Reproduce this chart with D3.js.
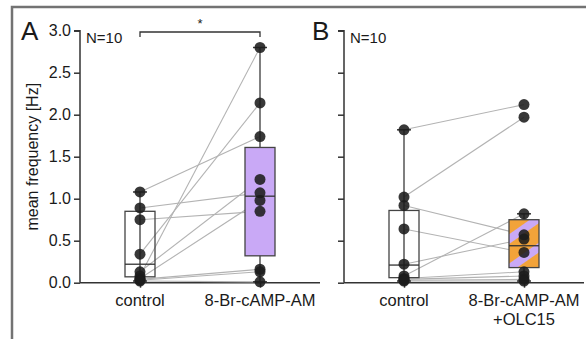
<!DOCTYPE html>
<html>
<head>
<meta charset="utf-8">
<script src="https://cdn.jsdelivr.net/npm/d3@7"></script>
<style>
body { margin: 0; background: #fff; }
text { font-family: "Liberation Sans", Arial, sans-serif; fill: #1a1a1a; }
</style>
</head>
<body>
<svg id="chart" width="586" height="339"></svg>
<script>
const yTicks = [0, 0.5, 1.0, 1.5, 2.0, 2.5, 3.0];
const catsA = ['control', '8-Br-cAMP-AM'];
const catsB = ['control', '8-Br-cAMP-AM|+OLC15'];

// paired recordings: same index = same cell
const ctrlA = [1.08, 0.89, 0.75, 0.34, 0.13, 0.08, 0.05, 0.04, 0.03, 0.02];
const campA = [1.74, 1.07, 0.85, 2.14, 1.23, 2.80, 0.98, 0.16, 0.13, 0.01];
const ctrlB = [1.82, 1.02, 0.92, 0.64, 0.22, 0.08, 0.05, 0.04, 0.03, 0.02];
const olcB = [2.12, 1.97, 0.57, 0.36, 0.52, 0.82, 0.13, 0.08, 0.04, 0.02];

// box stats: [low whisker, q1, median, q3, high whisker]
const boxA = [[0.02, 0.07, 0.22, 0.85, 1.08], [0.01, 0.32, 1.03, 1.61, 2.80]];
const boxB = [[0.02, 0.06, 0.21, 0.86, 1.82], [0.02, 0.18, 0.44, 0.75, 0.82]];

const svg = d3.select('#chart');
const defs = svg.append('defs');

const pat = defs.append('pattern')
	.attr('id', 'stripes')
	.attr('patternUnits', 'userSpaceOnUse')
	.attr('width', 24)
	.attr('height', 24)
	.attr('patternTransform', 'translate(509,205) rotate(-35)');
pat.append('rect').attr('width', 24).attr('height', 24).attr('fill', '#f2a33a');
pat.append('rect').attr('width', 24).attr('height', 8).attr('fill', '#c9a9f6');

// frame
svg.append('path')
	.attr('d', 'M12,340 L12,7 L590,7')
	.attr('fill', 'none')
	.attr('stroke', '#737373')
	.attr('stroke-width', 2.5);

const y = d3.scaleLinear().domain([0, 3]).range([282.7, 30.7]);

function drawPanel(x0, x1, cats, ctrl, treat, boxes, fill, showLabels) {
	const x = d3.scalePoint().domain(cats).range([x0, x1]).padding(0.5);
	const g = svg.append('g');

	// axes
	const yAxis = d3.axisLeft(y).tickValues(yTicks).tickSize(6).tickPadding(3)
		.tickFormat(showLabels ? d3.format('.1f') : '');
	const ya = g.append('g').attr('transform', `translate(${x0},0)`).call(yAxis);
	ya.select('.domain').attr('d', `M-6,${y(3)}H0V${y(0)}`);
	const xAxis = d3.axisBottom(x).tickSize(5).tickPadding(6).tickFormat('');
	const xa = g.append('g').attr('transform', `translate(0,${y(0)})`).call(xAxis);
	xa.select('.domain').attr('d', `M${x0},0H${x1}`);
	g.selectAll('.domain, .tick line').attr('stroke', '#333').attr('stroke-width', 1.5);
	ya.selectAll('.tick text').attr('font-size', 16).attr('fill', '#1a1a1a')
		.style('font-family', '"Liberation Sans", Arial, sans-serif');

	// category labels
	cats.forEach((c) => {
		const t = g.append('text')
			.attr('x', x(c))
			.attr('y', y(0) + 23)
			.attr('text-anchor', 'middle')
			.attr('font-size', 16.5);
		c.split('|').forEach((line, i) => {
			t.append('tspan').attr('x', x(c)).attr('dy', i ? 19 : 0).text(line);
		});
	});

	// pair lines
	g.selectAll('line.pair').data(d3.range(ctrl.length)).enter().append('line')
		.attr('class', 'pair')
		.attr('x1', x(cats[0]))
		.attr('y1', (i) => y(ctrl[i]))
		.attr('x2', x(cats[1]))
		.attr('y2', (i) => y(treat[i]))
		.attr('stroke', '#b3b3b3')
		.attr('stroke-width', 1.1);

	// boxes
	const bw = 30;
	boxes.forEach((b, i) => {
		const cx = x(cats[i]);
		g.append('line')
			.attr('x1', cx).attr('x2', cx)
			.attr('y1', y(b[0])).attr('y2', y(b[4]))
			.attr('stroke', '#555').attr('stroke-width', 1.5);
		[b[0], b[4]].forEach((v) => {
			g.append('line')
				.attr('x1', cx - 7).attr('x2', cx + 7)
				.attr('y1', y(v)).attr('y2', y(v))
				.attr('stroke', '#333').attr('stroke-width', 1.5);
		});
		g.append('rect')
			.attr('x', cx - bw / 2)
			.attr('y', y(b[3]))
			.attr('width', bw)
			.attr('height', y(b[1]) - y(b[3]))
			.attr('fill', i ? fill : 'none')
			.attr('stroke', '#444')
			.attr('stroke-width', 1.3);
		g.append('line')
			.attr('x1', cx - bw / 2).attr('x2', cx + bw / 2)
			.attr('y1', y(b[2])).attr('y2', y(b[2]))
			.attr('stroke', '#333').attr('stroke-width', 1.3);
	});

	// dots
	[ctrl, treat].forEach((vals, i) => {
		g.selectAll(null).data(vals).enter().append('circle')
			.attr('cx', x(cats[i]))
			.attr('cy', (d) => y(d))
			.attr('r', 5.5)
			.attr('fill', '#1c1c1c')
			.attr('fill-opacity', 0.88);
	});

	g.append('text')
		.attr('x', x0 + 6)
		.attr('y', 43)
		.attr('font-size', 15)
		.text('N=10');
	return x;
}

const xA = drawPanel(80, 320, catsA, ctrlA, campA, boxA, '#c9a9f6', true);
drawPanel(344, 584, catsB, ctrlB, olcB, boxB, 'url(#stripes)', false);

// significance bracket
svg.append('path')
	.attr('d', `M${xA(catsA[0])},37V32H${xA(catsA[1])}V37`)
	.attr('fill', 'none')
	.attr('stroke', '#333')
	.attr('stroke-width', 1.3);
svg.append('text')
	.attr('x', (xA(catsA[0]) + xA(catsA[1])) / 2)
	.attr('y', 28)
	.attr('text-anchor', 'middle')
	.attr('font-size', 13)
	.text('*');

svg.append('text')
	.attr('transform', `translate(38,${(y(0) + y(3)) / 2}) rotate(-90)`)
	.attr('text-anchor', 'middle')
	.attr('font-size', 16)
	.text('mean frequency [Hz]');

svg.append('text').attr('x', 21).attr('y', 40).attr('font-size', 26).text('A');
svg.append('text').attr('x', 312).attr('y', 40).attr('font-size', 26).text('B');
</script>
</body>
</html>
